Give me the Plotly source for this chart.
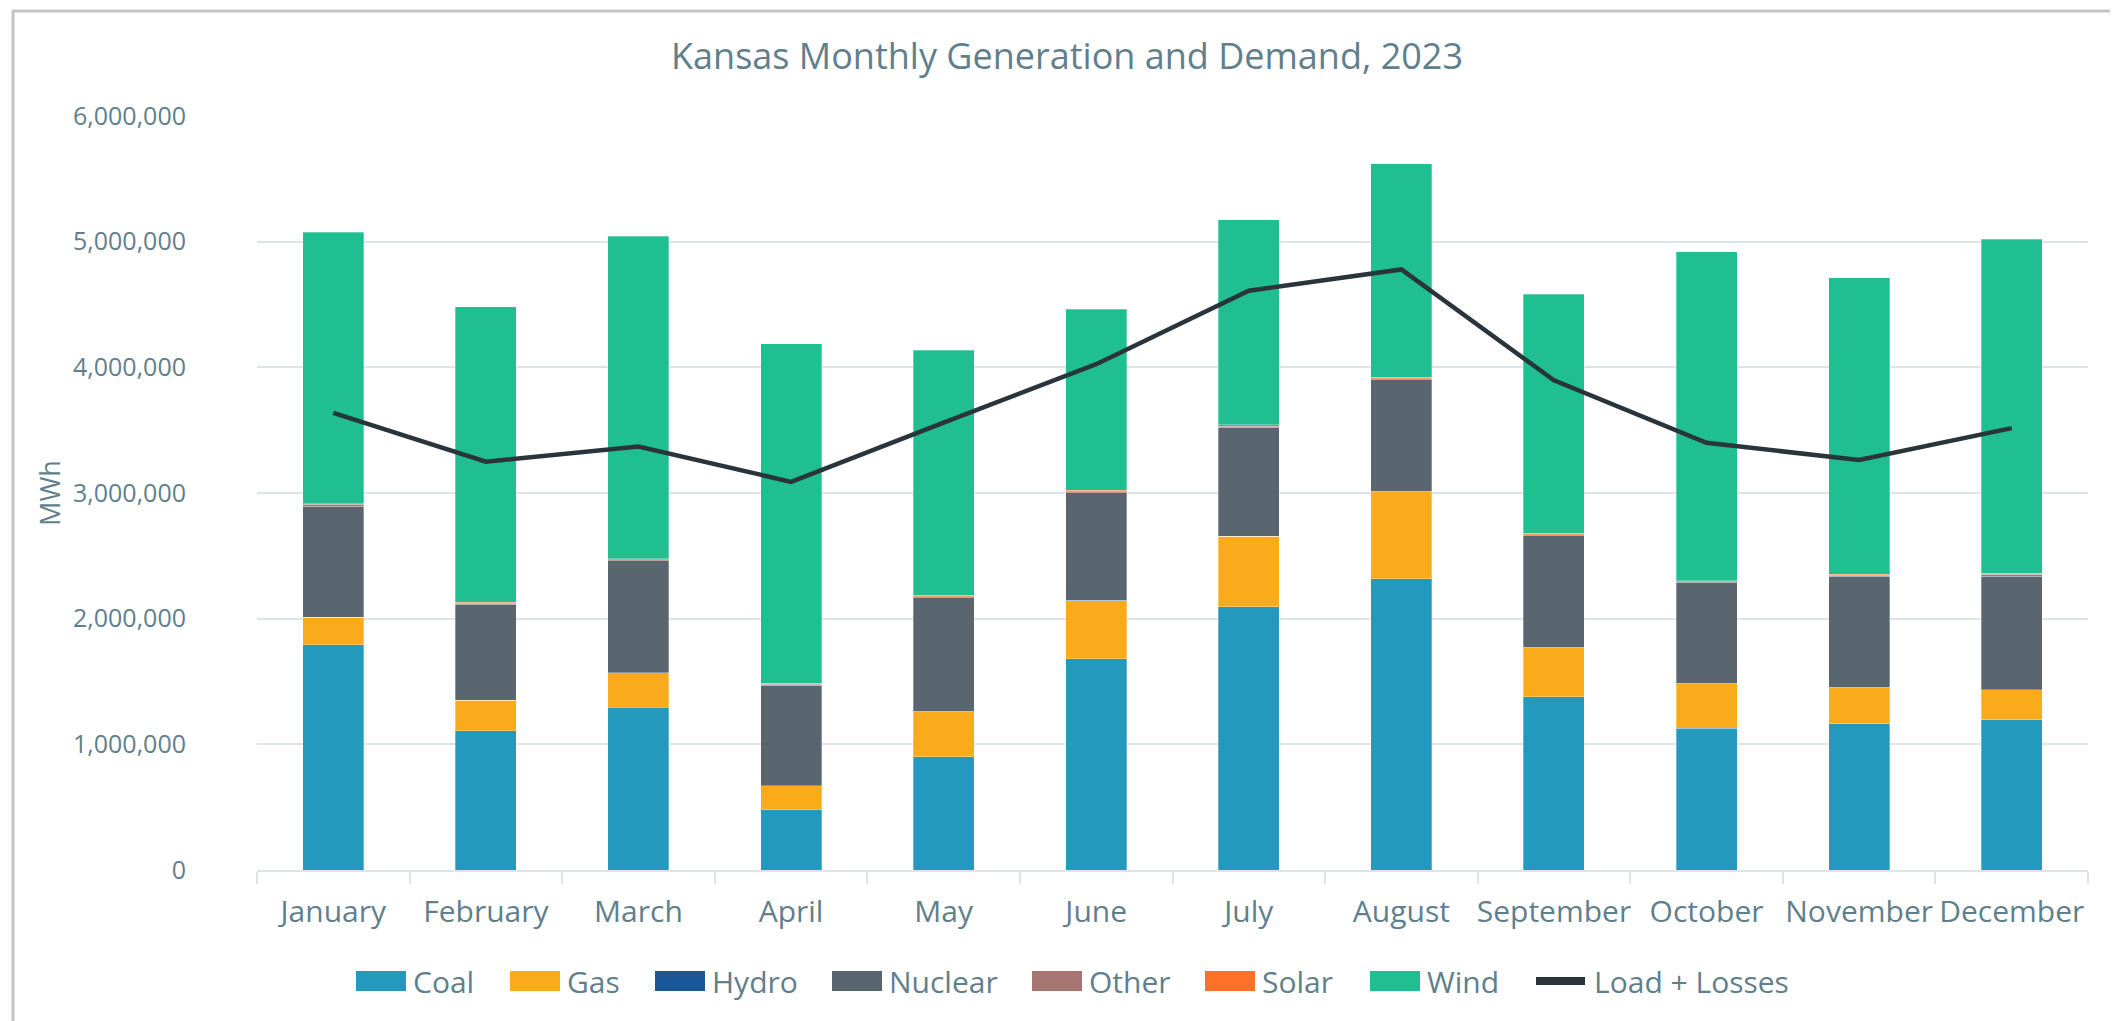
import plotly.graph_objects as go

months = ["January", "February", "March", "April", "May", "June", "July",
          "August", "September", "October", "November", "December"]

coal = [1794000, 1110000, 1295000, 480000, 903000, 1683000, 2094000, 2318000, 1380000, 1128000, 1164000, 1196000]
gas = [216000, 239000, 274000, 189000, 357000, 461000, 561000, 693000, 390000, 356000, 288000, 238000]
hydro = [1500, 1500, 1500, 1500, 1500, 1500, 1500, 1500, 1500, 1500, 1500, 1500]
nuclear = [883000, 765000, 890000, 801000, 905000, 856000, 867000, 890000, 890000, 804000, 886000, 904000]
other = [15000, 8000, 7000, 5000, 7000, 8000, 7000, 7000, 6000, 5000, 6000, 15000]
solar = [5000, 7000, 9000, 10000, 12000, 13000, 14000, 13000, 11000, 9000, 6000, 5000]
wind = [2160000, 2350000, 2567000, 2702000, 1950000, 1440000, 1630000, 1697000, 1902000, 2615000, 2363000, 2661000]
load = [3637000, 3249000, 3370000, 3089000, 3560000, 4025000, 4609000, 4779000, 3897000, 3399000, 3263000, 3516000]

series_names = ["Coal", "Gas", "Hydro", "Nuclear", "Other", "Solar", "Wind"]
series_values = [coal, gas, hydro, nuclear, other, solar, wind]
series_colors = ["#2399bd", "#f9ab1c", "#1a5796", "#5a666f", "#a67571", "#fe7126", "#1fbf91"]
load_name = "Load + Losses"
load_color = "#2a353b"

TEXT = "#5f7f8c"
FONT = "Open Sans"
GRID = "#dfe4e8"

W, H = 2118, 1021
L, R, T, B = 249, 38, 108, 159
PW, PH = W - L - R, H - T - B


def px(xpix):
    return (xpix - L) / PW


def py(ypix):
    return (H - B - ypix) / PH


fig = go.Figure()
for name, vals, color in zip(series_names, series_values, series_colors):
    fig.add_trace(go.Bar(
        x=months, y=vals, name=name, showlegend=False,
        marker=dict(color=color, line=dict(width=0.6, color="rgba(255,255,255,0.5)")),
    ))
fig.add_trace(go.Scatter(
    x=months, y=load, name=load_name, mode="lines", showlegend=False,
    line=dict(color=load_color, width=4.5),
))

# manual legend (large swatches like the original)
swatch_left = [348, 502, 647, 824, 1024, 1197, 1362]
shapes = []
annotations = []
leg_mid = 973
for name, color, x0 in zip(series_names, series_colors, swatch_left):
    shapes.append(dict(type="rect", xref="paper", yref="paper",
                       x0=px(x0), x1=px(x0 + 50), y0=py(leg_mid + 10), y1=py(leg_mid - 10),
                       fillcolor=color, line=dict(width=0)))
    annotations.append(dict(text=name, xref="paper", yref="paper",
                            x=px(x0 + 55), y=py(leg_mid), xanchor="left", yanchor="middle",
                            showarrow=False, font=dict(size=30, color=TEXT, family=FONT)))
shapes.append(dict(type="line", xref="paper", yref="paper",
                   x0=px(1528), x1=px(1577), y0=py(leg_mid), y1=py(leg_mid),
                   line=dict(color=load_color, width=8)))
annotations.append(dict(text=load_name, xref="paper", yref="paper",
                        x=px(1584), y=py(leg_mid), xanchor="left", yanchor="middle",
                        showarrow=False, font=dict(size=30, color=TEXT, family=FONT)))

# outer frame
shapes.append(dict(type="rect", xref="paper", yref="paper",
                   x0=px(5), x1=px(2116), y0=py(1060), y1=py(3),
                   line=dict(color="#c4c4c4", width=3), fillcolor="rgba(0,0,0,0)",
                   layer="below"))

fig.update_layout(
    width=W, height=H,
    template="none",
    barmode="stack",
    bargap=0.6,
    paper_bgcolor="white",
    plot_bgcolor="white",
    font=dict(family=FONT, color=TEXT, size=24),
    title=dict(text="Kansas Monthly Generation and Demand, 2023",
               x=0.5, xanchor="center", y=1 - 48 / H, yanchor="middle",
               font=dict(size=36, color=TEXT, family=FONT)),
    margin=dict(l=L, r=R, t=T, b=B, autoexpand=False),
    showlegend=False,
    shapes=shapes,
    annotations=annotations,
)

fig.update_yaxes(
    range=[0, 6000000], dtick=1000000, tickformat=",d",
    showgrid=True, gridcolor=GRID, gridwidth=2,
    zeroline=False, showline=False, automargin=False,
    ticks="", ticklabelstandoff=70,
    tickfont=dict(size=25, color=TEXT, family=FONT),
    title=dict(text="MWh", font=dict(size=27, color=TEXT, family=FONT), standoff=4),
)
fig.update_xaxes(
    showline=True, linecolor=GRID, linewidth=2, automargin=False,
    ticks="outside", tickson="boundaries", ticklen=12, tickcolor=GRID, tickwidth=2,
    ticklabelstandoff=14, tickangle=0,
    tickfont=dict(size=30, color=TEXT, family=FONT),
    showgrid=False, zeroline=False,
)

fig.write_html("out.html")
